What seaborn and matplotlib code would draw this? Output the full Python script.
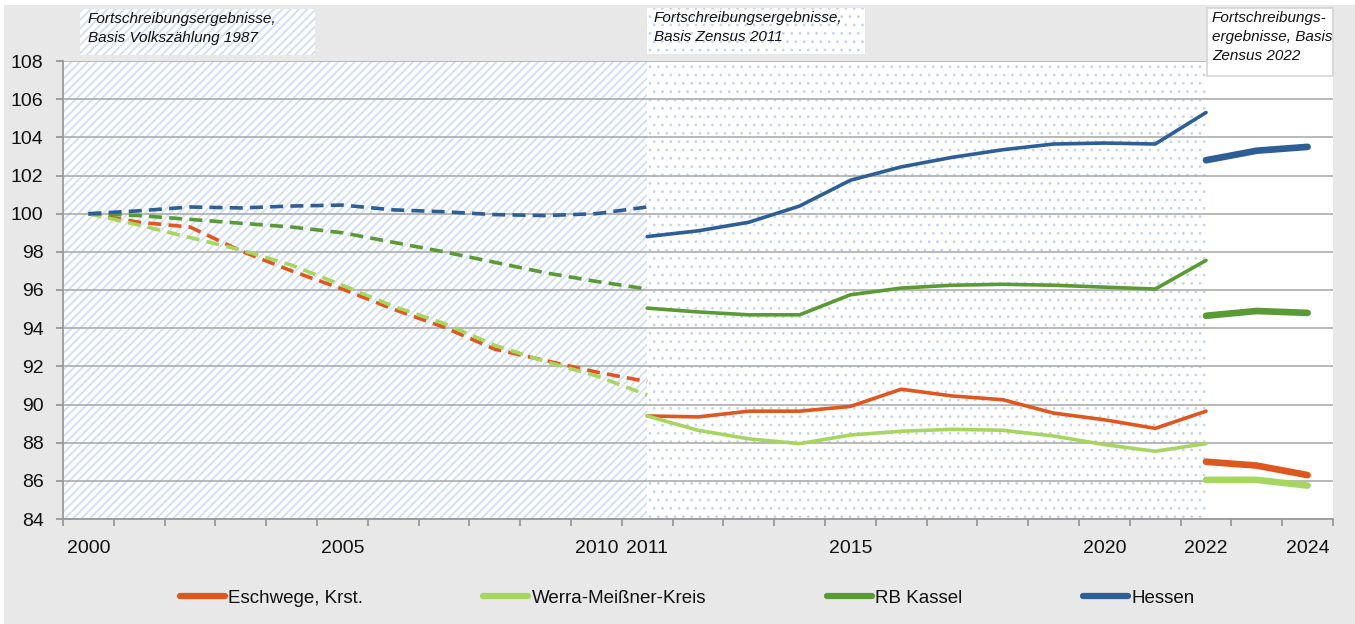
import pandas as pd
import matplotlib
matplotlib.use("Agg")
import matplotlib.pyplot as plt
from matplotlib.patches import Rectangle
from matplotlib.lines import Line2D
import seaborn as sns

# ---------- DATA ----------
regions = ["Eschwege, Krst.", "Werra-Meißner-Kreis", "RB Kassel", "Hessen"]

years_vz87 = list(range(2000, 2012))   # Basis Volkszählung 1987 (dashed)
years_z11 = list(range(2011, 2023))    # Basis Zensus 2011 (solid)
years_z22 = list(range(2022, 2025))    # Basis Zensus 2022 (thick)

eschwege_vz87 = [100.0, 99.55, 99.3, 98.05, 97.0, 96.05, 95.0, 94.05, 92.9, 92.3, 91.7, 91.2]
werra_vz87 = [100.0, 99.4, 98.75, 98.1, 97.3, 96.25, 95.15, 94.25, 93.1, 92.25, 91.5, 90.5]
kassel_vz87 = [100.0, 99.9, 99.7, 99.5, 99.3, 99.0, 98.5, 98.0, 97.45, 96.9, 96.45, 96.05]
hessen_vz87 = [100.0, 100.15, 100.35, 100.3, 100.4, 100.45, 100.2, 100.1, 99.95, 99.9, 100.0, 100.35]

eschwege_z11 = [89.4, 89.35, 89.65, 89.65, 89.9, 90.8, 90.45, 90.25, 89.55, 89.2, 88.75, 89.65]
werra_z11 = [89.4, 88.65, 88.2, 87.95, 88.4, 88.6, 88.7, 88.65, 88.35, 87.9, 87.55, 87.95]
kassel_z11 = [95.05, 94.85, 94.7, 94.7, 95.75, 96.1, 96.25, 96.3, 96.25, 96.15, 96.05, 97.55]
hessen_z11 = [98.8, 99.1, 99.55, 100.4, 101.75, 102.45, 102.95, 103.35, 103.65, 103.7, 103.65, 105.3]

eschwege_z22 = [87.0, 86.8, 86.3]
werra_z22 = [86.05, 86.05, 85.75]
kassel_z22 = [94.65, 94.9, 94.8]
hessen_z22 = [102.8, 103.3, 103.5]

tick_years = [2000, 2005, 2010, 2011, 2015, 2020, 2022, 2024]
first_year, last_year = 2000, 2024

colors = {
    "Eschwege, Krst.": "#E0561F",
    "Werra-Meißner-Kreis": "#A6D65F",
    "RB Kassel": "#5A9A34",
    "Hessen": "#2E5E96",
}

STRIPE = "#d3dff3"
DOT = "#c4d5f0"


def make_frame(years, series):
    rows = []
    for reg, vals in zip(regions, series):
        for y, v in zip(years, vals):
            rows.append({"pos": y - first_year, "value": v, "region": reg})
    return pd.DataFrame(rows)


df_vz87 = make_frame(years_vz87, [eschwege_vz87, werra_vz87, kassel_vz87, hessen_vz87])
df_z11 = make_frame(years_z11, [eschwege_z11, werra_z11, kassel_z11, hessen_z11])
df_z22 = make_frame(years_z22, [eschwege_z22, werra_z22, kassel_z22, hessen_z22])

# ---------- PLOT ----------
sns.set_theme(style="white")
plt.rcParams["font.family"] = ["Liberation Sans", "DejaVu Sans"]
plt.rcParams["hatch.linewidth"] = 1.4

W, H = 1355, 624
fig = plt.figure(figsize=(W / 100, H / 100), dpi=100, facecolor="white")
fig.add_artist(Rectangle((4 / W, 0), 1, 619 / H, transform=fig.transFigure,
                         facecolor="#e8e8e8", edgecolor="none", zorder=-10))

ax = fig.add_axes([63 / W, (H - 519) / H, 1270 / W, 458 / H])
ax.set_facecolor("white")

# background periods
z11_start = years_z11[0] - first_year
z22_start = years_z22[0] - first_year
ax.axvspan(-0.5, z11_start, facecolor="white", edgecolor=STRIPE, hatch="////", lw=0, zorder=0)
dots = ax.axvspan(z11_start, z22_start, facecolor="white", edgecolor=DOT, hatch="..", lw=0, zorder=0)
dots.set_hatch_linewidth(0.8)

palette = [colors[r] for r in regions]
sns.lineplot(data=df_vz87, x="pos", y="value", hue="region", hue_order=regions,
             palette=palette, legend=False, ax=ax, lw=2.6, linestyle=(0, (3.6, 2.0)),
             zorder=3)
sns.lineplot(data=df_z11, x="pos", y="value", hue="region", hue_order=regions,
             palette=palette, legend=False, ax=ax, lw=2.6, solid_capstyle="round", zorder=3)
sns.lineplot(data=df_z22, x="pos", y="value", hue="region", hue_order=regions,
             palette=palette, legend=False, ax=ax, lw=4.8, solid_capstyle="round", zorder=3)

ax.set_xlim(-0.5, last_year - first_year + 0.5)
ax.set_ylim(84, 108)
ax.set_yticks(range(84, 109, 2))
ax.set_xticks([y - first_year for y in tick_years])
ax.set_xticklabels([str(y) for y in tick_years])
ax.set_xticks([i - 0.5 for i in range(last_year - first_year + 2)], minor=True)
ax.set_xlabel("")
ax.set_ylabel("")

ax.set_axisbelow(True)
ax.grid(axis="y", color="#a6a6a6", lw=1.1, zorder=0.5)
ax.grid(axis="x", visible=False)
for side in ["top", "right"]:
    ax.spines[side].set_visible(False)
for side in ["left", "bottom"]:
    ax.spines[side].set_color("#999999")
    ax.spines[side].set_linewidth(1.3)

ax.tick_params(axis="y", which="major", length=5, width=1.3, color="#999999",
               labelsize=14, pad=9, labelcolor="#111111", left=True)
ax.tick_params(axis="x", which="major", length=0, labelsize=14, pad=15, labelcolor="#111111")
ax.tick_params(axis="x", which="minor", length=5, width=1.3, color="#999999", bottom=True)

# period notes
note_kw = dict(fontsize=11, style="italic", color="#111111", va="top", ha="left",
               linespacing=1.45, transform=fig.transFigure)
fig.add_artist(Rectangle((80 / W, (H - 55) / H), 235 / W, 46 / H, transform=fig.transFigure,
                         facecolor="white", edgecolor=STRIPE, hatch="////", lw=0))
fig.text(88 / W, 1 - 12 / H, "Fortschreibungsergebnisse,\nBasis Volkszählung 1987", **note_kw)
note2 = Rectangle((647 / W, (H - 54) / H), 218 / W, 46 / H, transform=fig.transFigure,
                  facecolor="white", edgecolor=DOT, hatch="..", lw=0)
note2.set_hatch_linewidth(0.8)
fig.add_artist(note2)
fig.text(654 / W, 1 - 11 / H, "Fortschreibungsergebnisse,\nBasis Zensus 2011", **note_kw)
fig.add_artist(Rectangle((1207 / W, (H - 76) / H), 126 / W, 68 / H, transform=fig.transFigure,
                         facecolor="white", edgecolor="#d4d4d4", lw=1.2))
fig.text(1212 / W, 1 - 11 / H, "Fortschreibungs-\nergebnisse, Basis\nZensus 2022", **note_kw)

# legend
handles = [Line2D([0], [0], color=colors[r], lw=4.5, solid_capstyle="round") for r in regions]
fig.legend(handles, regions, loc="center", bbox_to_anchor=(687 / W, 26 / H), ncol=4,
           frameon=False, fontsize=13.5, handlelength=2.4, handletextpad=0.2,
           columnspacing=6.4, labelcolor="#111111")

fig.savefig("out.png", dpi=100, facecolor=fig.get_facecolor())
